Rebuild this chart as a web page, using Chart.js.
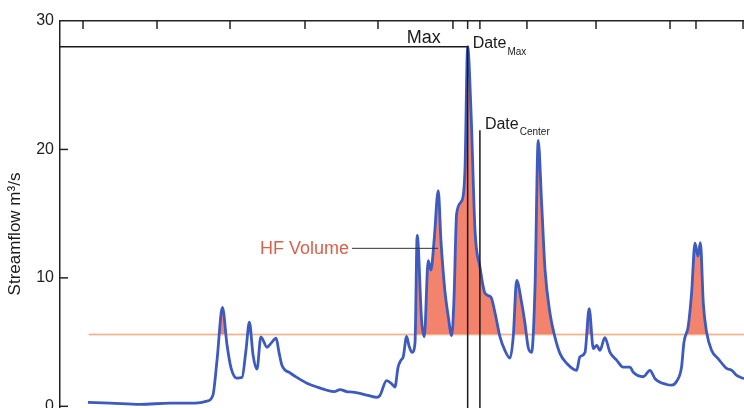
<!DOCTYPE html>
<html>
<head>
<meta charset="utf-8">
<title>Streamflow hydrograph</title>
<script src="https://cdn.jsdelivr.net/npm/chart.js@4.4.1/dist/chart.umd.min.js"></script>
<style>
    html, body { margin: 0; padding: 0; background: #fff; overflow: hidden; }
    #flowChart { display: block; }
</style>
</head>
<body>
<canvas id="flowChart" width="744" height="432"></canvas>
<script>
// Daily streamflow (day index, m3/s)
const flowDays = [
    11.4, 20.4, 32.7, 44.9, 55.1, 60.0, 62.4, 64.1, 66.3, 68.2,
    69.8, 72.2, 74.3, 75.9, 77.3, 78.8, 80.4, 82.0, 84.5, 86.1,
    88.2, 89.4, 90.6, 93.9, 97.1, 100.8, 104.9, 109.0, 112.2, 114.3,
    117.0, 119.6, 122.4, 125.7, 129.3, 130.6, 133.3, 135.4, 136.7, 138.0,
    139.2, 140.1, 141.5, 142.4, 143.7, 144.9, 145.8, 147.6, 148.7, 150.3,
    151.4, 152.7, 154.4, 155.5, 157.1, 158.4, 159.9, 160.8, 161.9, 164.0,
    165.3, 166.4, 167.8, 169.4, 171.4, 173.5, 175.9, 177.6, 179.6, 181.6,
    183.7, 185.0, 186.4, 188.4, 189.8, 191.1, 192.5, 193.9, 195.2, 196.6,
    198.0, 200.0, 202.0, 204.1, 206.8, 210.9, 212.2, 214.3, 216.0, 217.7,
    219.1, 220.4, 222.4, 224.5, 227.2, 229.9, 232.7, 234.0, 238.1, 240.8,
    242.9, 247.6, 249.7, 251.7, 253.7, 254.7, 256.4, 257.8, 259.2, 260.4,
    261.4, 262.6, 263.9, 266.0, 268.7, 272.1, 274.2, 276.2, 279.2
];
const flowValues = [
    0.3, 0.25, 0.15, 0.25, 0.25, 0.4, 0.85, 3.6, 7.7, 4.75,
    3.0, 2.2, 2.25, 4.35, 6.55, 4.0, 2.9, 5.4, 4.6, 4.9,
    5.3, 4.2, 3.2, 2.6, 2.2, 1.8, 1.5, 1.25, 1.15, 1.3,
    1.15, 1.1, 1.0, 0.85, 0.7, 0.85, 2.0, 1.75, 1.5, 3.05,
    3.6, 3.85, 5.45, 4.75, 4.2, 4.9, 13.3, 6.7, 5.4, 11.35,
    10.6, 12.9, 16.8, 12.9, 9.0, 7.1, 5.5, 8.25, 15.0, 16.0,
    18.4, 28.0, 22.8, 13.7, 10.85, 8.8, 8.5, 7.25, 5.4, 4.35,
    3.75, 5.4, 9.8, 8.1, 6.45, 4.6, 4.2, 9.3, 20.7, 15.8,
    10.6, 7.25, 5.4, 4.1, 3.35, 2.8, 3.85, 4.2, 7.6, 4.5,
    4.75, 4.35, 5.35, 4.2, 3.6, 3.05, 3.05, 2.65, 2.3, 2.8,
    2.15, 1.7, 1.65, 1.95, 3.05, 5.0, 6.2, 8.8, 12.7, 11.7,
    12.75, 8.0, 5.8, 4.35, 3.7, 2.95, 2.8, 2.4, 2.15
];

const yTicks = [0, 10, 20, 30];
const topTickDays = [9.4, 39.6, 69.4, 100, 129.8, 160.4, 166.4, 171.4, 190.6, 218.8, 249, 259.6, 278.8];
const xRange = [0, 279.2];
const yRange = [-2, 30];

const threshold = 5.6;
const thresholdSpan = [11.8, 279.2];
const maxFlow = 28;
const maxDay = 166.4;
const centerDay = 171.4;
const centerTop = 21.5;
const hfLeaderSpan = [119.2, 154.3];
const hfLeaderFlow = 12.3;

const FONT = '"Liberation Sans", Arial, Helvetica, sans-serif';

const hydroAnnotations = {
    id: 'hydroAnnotations',
    afterDraw(chart) {
        const { ctx, chartArea, scales: { x, y } } = chart;
        ctx.save();
        ctx.strokeStyle = '#222';
        ctx.lineWidth = 1.5;

        // inward tick marks on the top axis
        topTickDays.forEach(d => {
            const px = x.getPixelForValue(d);
            ctx.beginPath();
            ctx.moveTo(px, chartArea.top);
            ctx.lineTo(px, chartArea.top + 8);
            ctx.stroke();
        });
        // inward tick marks on the left axis
        yTicks.slice(0, -1).forEach(v => {
            const py = y.getPixelForValue(v);
            ctx.beginPath();
            ctx.moveTo(chartArea.left, py);
            ctx.lineTo(chartArea.left + 8, py);
            ctx.stroke();
        });

        const mx = x.getPixelForValue(maxDay);
        const my = y.getPixelForValue(maxFlow);
        const cx = x.getPixelForValue(centerDay);
        const cy = y.getPixelForValue(centerTop);

        ctx.fillStyle = '#1a1a1a';
        ctx.textBaseline = 'alphabetic';

        // Max
        ctx.font = '18px ' + FONT;
        ctx.textAlign = 'right';
        ctx.fillText('Max', mx - 27, my - 4);

        // Date_Max
        ctx.textAlign = 'left';
        ctx.font = '16px ' + FONT;
        ctx.fillText('Date', mx + 5, my + 1);
        let w = ctx.measureText('Date').width;
        ctx.font = '10px ' + FONT;
        ctx.fillText('Max', mx + 6 + w, my + 8);

        // Date_Center
        ctx.font = '16px ' + FONT;
        ctx.fillText('Date', cx + 5, cy - 1);
        w = ctx.measureText('Date').width;
        ctx.font = '10px ' + FONT;
        ctx.fillText('Center', cx + 6 + w, cy + 5);

        // HF Volume label
        ctx.fillStyle = '#d9604a';
        ctx.font = '18px ' + FONT;
        ctx.textAlign = 'right';
        ctx.fillText('HF Volume', x.getPixelForValue(hfLeaderSpan[0]) - 3, y.getPixelForValue(hfLeaderFlow) + 6);

        // y axis title
        ctx.fillStyle = '#1a1a1a';
        ctx.font = '17px ' + FONT;
        ctx.textAlign = 'center';
        ctx.textBaseline = 'middle';
        ctx.translate(15, 234);
        ctx.rotate(-Math.PI / 2);
        ctx.fillText('Streamflow m\u00b3/s', 0, 0);

        ctx.restore();
    }
};

const lineStyle = { pointRadius: 0, fill: false, tension: 0 };

new Chart(document.getElementById('flowChart'), {
    type: 'line',
    data: {
        datasets: [
            {
                label: 'Max',
                data: [{ x: xRange[0], y: maxFlow }, { x: maxDay, y: maxFlow }, { x: maxDay, y: yRange[0] }],
                borderColor: '#1a1a1a',
                borderWidth: 1.5,
                ...lineStyle
            },
            {
                label: 'Date center',
                data: [{ x: centerDay, y: centerTop }, { x: centerDay, y: yRange[0] }],
                borderColor: '#1a1a1a',
                borderWidth: 1.5,
                ...lineStyle
            },
            {
                label: 'HF leader',
                data: hfLeaderSpan.map(d => ({ x: d, y: hfLeaderFlow })),
                borderColor: '#333',
                borderWidth: 1,
                ...lineStyle
            },
            {
                label: 'Streamflow',
                data: flowDays.map((d, i) => ({ x: d, y: flowValues[i] })),
                borderColor: '#3c5ac0',
                borderWidth: 2.8,
                pointRadius: 0,
                cubicInterpolationMode: 'monotone',
                fill: {
                    target: { value: threshold },
                    above: 'rgba(242, 118, 92, 0.9)',
                    below: 'rgba(0, 0, 0, 0)'
                }
            },
            {
                label: 'Threshold',
                data: thresholdSpan.map(d => ({ x: d, y: threshold })),
                borderColor: '#f2c7a2',
                borderWidth: 2,
                ...lineStyle
            }
        ]
    },
    options: {
        responsive: false,
        animation: false,
        layout: { padding: 0 },
        plugins: {
            legend: { display: false },
            tooltip: { enabled: false }
        },
        scales: {
            x: {
                type: 'linear',
                position: 'top',
                min: xRange[0],
                max: xRange[1],
                ticks: { display: false },
                grid: { display: true, drawOnChartArea: false, drawTicks: false },
                border: { display: true, color: '#222', width: 1.5 },
                afterFit(scale) { scale.height = 21; }
            },
            y: {
                min: yRange[0],
                max: yRange[1],
                afterBuildTicks(scale) { scale.ticks = yTicks.map(v => ({ value: v })); },
                ticks: {
                    color: '#222',
                    padding: 6,
                    font: { family: FONT, size: 16 }
                },
                grid: { display: true, drawOnChartArea: false, drawTicks: false },
                border: { display: true, color: '#222', width: 1.5 },
                afterFit(scale) {
                    scale.width = 60;
                    scale.paddingTop = 0;
                    scale.paddingBottom = 0;
                }
            }
        }
    },
    plugins: [hydroAnnotations]
});
</script>
</body>
</html>
